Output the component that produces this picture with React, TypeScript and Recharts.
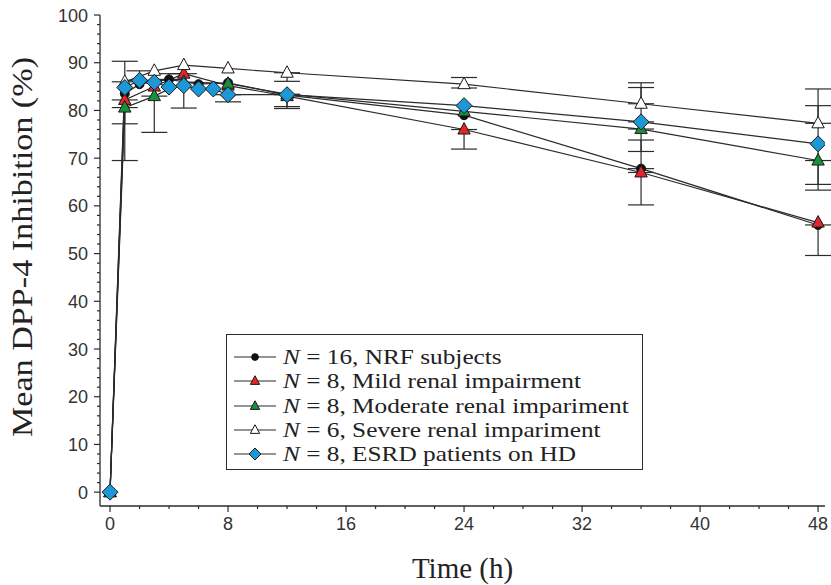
import React from "react";
import { LineChart, Line, XAxis, YAxis, ErrorBar } from "recharts";

// sampling times (h)
const TIMES_NRF = [0, 1, 2, 4, 6, 8, 12, 24, 36, 48];
const TIMES_TRI = [0, 1, 3, 5, 8, 12, 24, 36, 48];
const TIMES_ESRD = [0, 1, 2, 3, 4, 5, 6, 7, 8, 12, 24, 36, 48];

// mean inhibition (%)
const NRF_VALUES = [0, 83.5, 85.5, 86.5, 85.5, 85.8, 83.2, 79.0, 67.8, 56.0];
const MILD_VALUES = [0, 82.2, 85.0, 87.7, 85.2, 83.0, 76.0, 67.0, 56.5];
const MODERATE_VALUES = [0, 80.6, 83.0, 86.0, 85.6, 83.4, 79.8, 76.1, 69.5];
const SEVERE_VALUES = [0, 86.0, 88.3, 89.5, 88.8, 87.9, 85.5, 81.4, 77.3];
const ESRD_VALUES = [0, 84.8, 86.3, 85.9, 84.9, 85.2, 84.5, 84.5, 83.3, 83.3, 81.0, 77.6, 73.0];

// error bars as [minus, plus]; null = none drawn
const NRF_ERR = [null, null, null, [0, 1.2], null, null, null, null, [0, 6.0], [6.4, 0]];
const MILD_ERR = [null, [5.0, 0], null, [7.2, 0], null, null, [4.1, 0], [6.8, 0], null];
const MODERATE_ERR = [null, [11.1, 0], [7.6, 0], null, null, [2.6, 0], null, [4.7, 0], [5.0, 0]];
const SEVERE_ERR = [null, [0, 4.3], null, null, null, [1.8, 0], [0.8, 1.4], [0, 4.4], [0, 7.2]];
const ESRD_ERR = [null, null, [0, 2.0], null, null, null, null, null, [1.5, 0], [2.9, 0], null, [0, 7.2], [9.7, 8.0]];

const X_TICKS = Array.from({ length: 25 }, (_, i) => i * 2);
const Y_TICKS = Array.from({ length: 51 }, (_, i) => i * 2);

const makeRows = (times: number[], values: number[], errs: any[]) =>
  times.map((t, i) => ({ t, v: values[i], e: errs[i] ?? undefined }));

const INK = "#2b2b2b";
const SERIF = "'Liberation Serif', 'Times New Roman', serif";
const SANS = "'Liberation Sans', Arial, sans-serif";

function Marker({ kind, cx, cy, fill, s = 1 }: { kind: string; cx: number; cy: number; fill: string; s?: number }) {
  if (kind === "circle") return <circle cx={cx} cy={cy} r={4.5 * s} fill={fill} stroke="#111" strokeWidth={1} />;
  if (kind === "diamond") {
    const d = 8 * s;
    return (
      <polygon
        points={`${cx},${cy - d} ${cx + d},${cy} ${cx},${cy + d} ${cx - d},${cy}`}
        fill={fill}
        stroke="#1a1a1a"
        strokeWidth={1}
      />
    );
  }
  return (
    <polygon
      points={`${cx},${cy - 7 * s} ${cx - 6.2 * s},${cy + 4.5 * s} ${cx + 6.2 * s},${cy + 4.5 * s}`}
      fill={fill}
      stroke="#1a1a1a"
      strokeWidth={1}
    />
  );
}

const SERIES = [
  { key: "nrf", n: "16", label: "NRF subjects", kind: "circle", fill: "#111111", rows: makeRows(TIMES_NRF, NRF_VALUES, NRF_ERR) },
  { key: "mild", n: "8", label: "Mild renal impairment", kind: "tri", fill: "#e3262b", rows: makeRows(TIMES_TRI, MILD_VALUES, MILD_ERR) },
  { key: "moderate", n: "8", label: "Moderate renal impariment", kind: "tri", fill: "#18913c", rows: makeRows(TIMES_TRI, MODERATE_VALUES, MODERATE_ERR) },
  { key: "severe", n: "6", label: "Severe renal impariment", kind: "tri", fill: "#ffffff", rows: makeRows(TIMES_TRI, SEVERE_VALUES, SEVERE_ERR) },
  { key: "esrd", n: "8", label: "ESRD patients on HD", kind: "diamond", fill: "#1b98d5", rows: makeRows(TIMES_ESRD, ESRD_VALUES, ESRD_ERR) },
];

function XTick({ x, y, payload }: any) {
  const major = payload.value % 8 === 0;
  return (
    <g>
      <line x1={x} y1={y} x2={x} y2={y + (major ? 6 : 3)} stroke={INK} strokeWidth={1.2} />
      {major && (
        <text x={x} y={y + 24} textAnchor="middle" fontFamily={SANS} fontSize={18} fill="#333">
          {payload.value}
        </text>
      )}
    </g>
  );
}

function YTick({ x, y, payload }: any) {
  const major = payload.value % 10 === 0;
  return (
    <g>
      <line x1={x - (major ? 6 : 3)} y1={y} x2={x} y2={y} stroke={INK} strokeWidth={1.2} />
      {major && (
        <text x={x - 12} y={y + 6.5} textAnchor="end" fontFamily={SANS} fontSize={18} fill="#333">
          {payload.value}
        </text>
      )}
    </g>
  );
}

function ChartLegend() {
  return (
    <div
      style={{
        position: "absolute",
        left: 226,
        top: 334,
        width: 417,
        height: 136,
        boxSizing: "border-box",
        border: `1.5px solid ${INK}`,
        background: "#fff",
        paddingTop: 10,
        fontFamily: SERIF,
        fontSize: 21.8,
        color: "#222",
      }}
    >
      {SERIES.map((s) => (
        <div key={s.key} style={{ display: "flex", alignItems: "center", height: 24.3, whiteSpace: "nowrap" }}>
          <svg width={56} height={24} style={{ flex: "none" }}>
            <line x1={7} y1={12} x2={49} y2={12} stroke={INK} strokeWidth={1.2} />
            <Marker kind={s.kind} cx={28} cy={12} fill={s.fill} s={0.75} />
          </svg>
          <span
            style={{
              display: "inline-block",
              lineHeight: "24.3px",
              transform: "scaleX(1.16)",
              transformOrigin: "0 50%",
            }}
          >
            <i>N</i> = {s.n}, {s.label}
          </span>
        </div>
      ))}
    </div>
  );
}

export default function App() {
  return (
    <div style={{ position: "absolute", left: 0, top: 0, width: 831, height: 585, background: "#fff" }}>
      <LineChart width={831} height={585} margin={{ top: 15, right: 6, bottom: 49, left: 40 }}>
        <XAxis
          type="number"
          dataKey="t"
          domain={[-0.68, 48.47]}
          allowDataOverflow
          ticks={X_TICKS}
          interval={0}
          height={30}
          tickSize={0}
          tickMargin={0}
          tickLine={false}
          tick={<XTick />}
          axisLine={{ stroke: INK, strokeWidth: 1.3 }}
          label={{
            content: ({ viewBox }: any) => (
              <text
                x={viewBox.x + viewBox.width / 2}
                y={viewBox.y + 72}
                textAnchor="middle"
                fontFamily={SERIF}
                fontSize={29}
                fill="#222"
              >
                Time (h)
              </text>
            ),
          }}
        />
        <YAxis
          type="number"
          domain={[-2.9, 100]}
          allowDataOverflow
          ticks={Y_TICKS}
          interval={0}
          width={60}
          tickSize={0}
          tickMargin={0}
          tickLine={false}
          tick={<YTick />}
          axisLine={{ stroke: INK, strokeWidth: 1.3 }}
          label={{
            content: () => (
              <text
                x={32}
                y={247}
                transform="rotate(-90 32 247)"
                textAnchor="middle"
                fontFamily={SERIF}
                fontSize={29}
                textLength={380}
                lengthAdjust="spacingAndGlyphs"
                fill="#222"
              >
                Mean DPP-4 Inhibition (%)
              </text>
            ),
          }}
        />
        {SERIES.map((s) => (
          <Line
            key={s.key}
            data={s.rows}
            dataKey="v"
            type="linear"
            stroke={INK}
            strokeWidth={1.2}
            isAnimationActive={false}
            dot={(p: any) => <Marker key={`${s.key}-${p.index}`} kind={s.kind} cx={p.cx} cy={p.cy} fill={s.fill} />}
            activeDot={false}
          >
            <ErrorBar dataKey="e" direction="y" width={13} stroke={INK} strokeWidth={1.2} />
          </Line>
        ))}
      </LineChart>
      <ChartLegend />
    </div>
  );
}
